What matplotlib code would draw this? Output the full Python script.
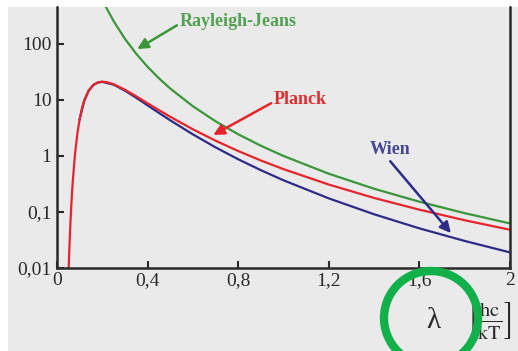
from matplotlib import pyplot as plt
from matplotlib.patches import Ellipse, Rectangle
from matplotlib.ticker import FuncFormatter

plt.rcParams['font.family'] = ['Liberation Serif', 'DejaVu Serif']
plt.rcParams['mathtext.fontset'] = 'stix'

# values (lambda in units of hc/kT)
planck_x = [0.05, 0.055, 0.06, 0.065, 0.07, 0.08, 0.09, 0.10, 0.11, 0.12, 0.14, 0.16,
            0.18, 0.20, 0.22, 0.25, 0.30, 0.35, 0.40, 0.45, 0.50, 0.60, 0.70, 0.80,
            0.90, 1.0, 1.2, 1.4, 1.6, 1.8, 2.0]
planck_y = [0.0066, 0.0253, 0.0743, 0.179, 0.372, 1.137, 2.53, 4.54, 7.0, 9.66, 14.7, 18.45,
            20.54, 21.2, 20.82, 19.1, 15.22, 11.6, 8.73, 6.59, 5.01, 2.995, 1.876, 1.226,
            0.831, 0.582, 0.309, 0.178, 0.110, 0.0712, 0.0482]

wien_x = [0.10, 0.12, 0.14, 0.16, 0.18, 0.20, 0.25, 0.30, 0.35, 0.40, 0.45, 0.50,
          0.60, 0.70, 0.80, 0.90, 1.0, 1.2, 1.4, 1.6, 1.8, 2.0]
wien_y = [4.54, 9.66, 14.7, 18.44, 20.5, 21.06, 18.75, 14.68, 10.93, 8.02, 5.87, 4.33,
          2.43, 1.426, 0.874, 0.558, 0.368, 0.175, 0.091, 0.051, 0.0304, 0.019]

rj_x = [0.20, 0.22, 0.25, 0.30, 0.35, 0.40, 0.45, 0.50, 0.60, 0.70, 0.80, 0.90,
        1.0, 1.2, 1.4, 1.6, 1.8, 2.0]
rj_y = [625, 427, 256, 123.5, 66.6, 39.06, 24.39, 16.0, 7.72, 4.165, 2.441, 1.524,
        1.0, 0.482, 0.260, 0.1526, 0.0953, 0.0625]

x_ticks = [0, 0.4, 0.8, 1.2, 1.6, 2]
y_ticks = [0.01, 0.1, 1, 10, 100]

green = '#3a963a'
red = '#e6242c'
blue = '#2c2c88'

fig = plt.figure(figsize=(5.18, 3.51), dpi=100, facecolor='white')
# gray page behind the plot
fig.patches.append(Rectangle((8 / 518, 0), 1, 1 - 7 / 351, transform=fig.transFigure,
                             facecolor='#eaeaea', edgecolor='none', zorder=-10))

ax = fig.add_axes([57 / 518, 83 / 351, 453 / 518, 261 / 351])
ax.set_facecolor('none')

ax.plot(wien_x, wien_y, color=blue, lw=1.6)
ax.plot(planck_x, planck_y, color=red, lw=1.6)
ax.plot(rj_x, rj_y, color=green, lw=1.6)

ax.set_yscale('log')
ax.set_xlim(0, 2)
ax.set_ylim(0.01, 457)
ax.set_xticks(x_ticks)
ax.set_yticks(y_ticks)
ax.minorticks_off()

fmt = FuncFormatter(lambda v, pos: ('%g' % v).replace('.', ','))
ax.xaxis.set_major_formatter(fmt)
ax.yaxis.set_major_formatter(fmt)
ax.tick_params(direction='in', length=5, width=1.5, labelsize=14, pad=4, colors='#2a2a2a')
ax.tick_params(axis='x', pad=3)
ax.tick_params(axis='y', right=False)

ax.spines['top'].set_visible(False)
for s in ['left', 'bottom', 'right']:
    ax.spines[s].set_linewidth(1.8)
    ax.spines[s].set_color('#2a2a2a')

# labels with arrows
arrow = dict(arrowstyle='-|>', lw=1.8, mutation_scale=16, shrinkA=0, shrinkB=0)
ax.annotate('Rayleigh-Jeans', xy=(0.354, 81), xytext=(0.80, 247), color='#52a052',
            fontsize=13, fontweight='bold', ha='center', va='center',
            arrowprops=dict(arrow, color=green, relpos=(0, 0.4)))
ax.annotate('Planck', xy=(0.69, 2.37), xytext=(1.075, 10), color='#dc3030',
            fontsize=13, fontweight='bold', ha='center', va='center',
            arrowprops=dict(arrow, color=red, relpos=(0, 0.4)))
ax.annotate('Wien', xy=(1.739, 0.042), xytext=(1.47, 1.28), color='#464696',
            fontsize=13, fontweight='bold', ha='center', va='center',
            arrowprops=dict(arrow, color=blue, relpos=(0.45, 0)))

# axis label
fig.text(433 / 518, 1 - 321 / 351, 'λ', fontsize=21, ha='center', va='center',
         color='#2a2a2a')
fig.text(489 / 518, 1 - 321 / 351, r'$\left[\frac{\mathrm{hc}}{\mathrm{kT}}\right]$',
         fontsize=21, ha='center', va='center', color='#2a2a2a')

# green circle marking the label
fig.patches.append(Ellipse((431 / 518, 1 - 318 / 351), 94 / 518, 94 / 351,
                           transform=fig.transFigure, fill=False, edgecolor='#12b04a',
                           lw=6, zorder=5))

fig.savefig('out.png', dpi=100)
